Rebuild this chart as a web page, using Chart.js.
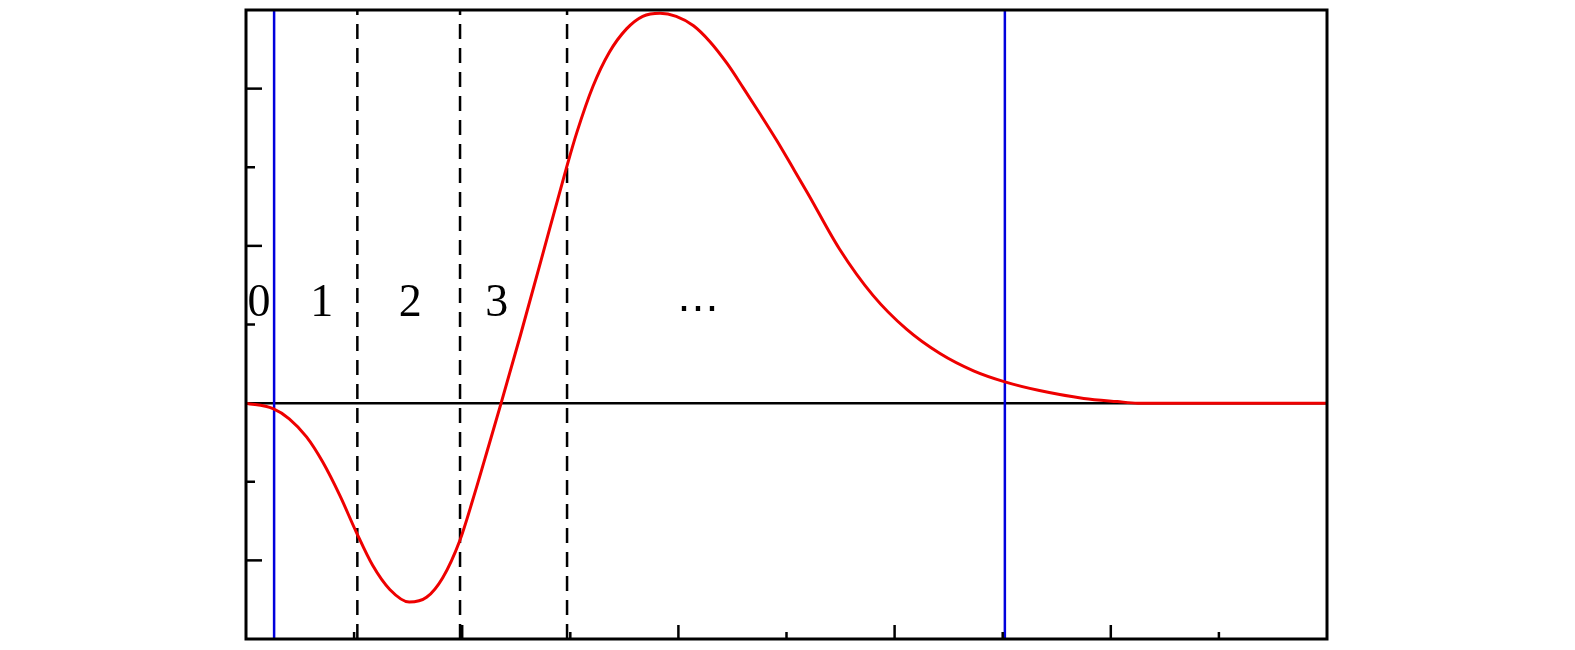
<!DOCTYPE html>
<html>
<head>
<meta charset="utf-8">
<script src="https://cdn.jsdelivr.net/npm/chart.js@4.4.1/dist/chart.umd.min.js"></script>
<style>
    html, body { margin: 0; padding: 0; background: #ffffff; }
    #chart-container { width: 1575px; height: 650px; position: relative; }
</style>
</head>
<body>
<div id="chart-container"><canvas id="wave-chart"></canvas></div>
<script>
// values
const CURVE_X = [0.00, 0.25, 0.40, 0.56, 0.71, 0.87, 1.02, 1.17, 1.33, 1.51, 1.67, 1.82, 1.98, 2.10, 2.25, 2.36,
    2.54, 2.73, 2.97, 3.06, 3.21, 3.36, 3.52, 3.67, 3.83, 3.98, 4.14, 4.29, 4.45, 4.60, 4.75, 4.91, 5.06,
    5.20, 5.49, 5.80, 6.11, 6.42, 6.73, 7.02, 7.34, 7.75, 8.06, 8.25, 10.00];
const CURVE_Y = [0.00, -0.07, -0.20, -0.43, -0.75, -1.18, -1.64, -2.06, -2.37, -2.53, -2.47, -2.22, -1.74, -1.22, -0.52, 0.00,
    0.87, 1.82, 3.02, 3.44, 4.03, 4.46, 4.76, 4.92, 4.96, 4.92, 4.80, 4.60, 4.32, 4.01, 3.69, 3.34, 2.99,
    2.66, 1.96, 1.37, 0.94, 0.63, 0.41, 0.27, 0.16, 0.06, 0.02, 0.00, 0.00];
const BLUE_LINES = [0.26, 7.02];
const DASHED_LINES = [1.03, 1.98, 2.97];
const REGION_LABELS = ["0", "1", "2", "3", "\u22EF"];
const REGION_LABEL_X = [0.12, 0.70, 1.52, 2.32, 4.18];
const REGION_LABEL_Y = [1.11, 1.11, 1.11, 1.11, 1.05];
const X_TICKS = [1, 2, 3, 4, 5, 6, 7, 8, 9];
const Y_TICKS = [-2, -1, 1, 2, 3, 4];
const X_RANGE = [0, 10];
const Y_RANGE = [-3, 5];

const RED = "#ee0000";
const BLUE = "#0000dd";
const BLACK = "#000000";

function verticalLine(x) {
    return [{x: x, y: Y_RANGE[0]}, {x: x, y: Y_RANGE[1]}];
}

function makeDatasets() {
    const res = [];
    res.push({
        data: CURVE_X.map((x, i) => ({x: x, y: CURVE_Y[i]})),
        borderColor: RED,
        borderWidth: 3,
        cubicInterpolationMode: "monotone",
        order: 0
    });
    BLUE_LINES.forEach(x => {
        res.push({data: verticalLine(x), borderColor: BLUE, borderWidth: 2.5, order: 1});
    });
    DASHED_LINES.forEach(x => {
        res.push({data: verticalLine(x), borderColor: BLACK, borderWidth: 2.5, borderDash: [15, 9], order: 2});
    });
    res.push({
        data: [{x: X_RANGE[0], y: 0}, {x: X_RANGE[1], y: 0}],
        borderColor: BLACK,
        borderWidth: 2.5,
        order: 3
    });
    return res;
}

// frame, inward ticks and region labels
const framePlugin = {
    id: "frame",
    afterDraw(chart) {
        const {ctx, chartArea, scales} = chart;
        const xs = scales.x;
        const ys = scales.y;
        ctx.save();
        ctx.strokeStyle = BLACK;
        ctx.lineWidth = 3;
        ctx.strokeRect(chartArea.left, chartArea.top, chartArea.right - chartArea.left, chartArea.bottom - chartArea.top);

        ctx.lineWidth = 2.5;
        X_TICKS.forEach(v => {
            const px = xs.getPixelForValue(v);
            const len = v % 2 === 0 ? 14 : 7;
            ctx.beginPath();
            ctx.moveTo(px, chartArea.bottom);
            ctx.lineTo(px, chartArea.bottom - len);
            ctx.stroke();
        });
        Y_TICKS.forEach(v => {
            const py = ys.getPixelForValue(v);
            const len = v % 2 === 0 ? 16 : 9;
            ctx.beginPath();
            ctx.moveTo(chartArea.left, py);
            ctx.lineTo(chartArea.left + len, py);
            ctx.stroke();
        });

        ctx.fillStyle = BLACK;
        ctx.textAlign = "center";
        ctx.textBaseline = "alphabetic";
        REGION_LABELS.forEach((label, i) => {
            ctx.font = label === "\u22EF" ? "42px 'DejaVu Serif'" : "46px 'Liberation Serif'";
            ctx.fillText(label, xs.getPixelForValue(REGION_LABEL_X[i]), ys.getPixelForValue(REGION_LABEL_Y[i]));
        });
        ctx.restore();
    }
};

const ctx = document.querySelector("#wave-chart").getContext("2d");
const configuration = {
    type: "line",
    data: {
        datasets: makeDatasets()
    },
    options: {
        animation: false,
        responsive: true,
        maintainAspectRatio: false,
        layout: {
            padding: {left: 246, right: 248, top: 10, bottom: 11}
        },
        elements: {
            point: {radius: 0},
            line: {fill: false}
        },
        scales: {
            x: {type: "linear", min: X_RANGE[0], max: X_RANGE[1], display: false},
            y: {type: "linear", min: Y_RANGE[0], max: Y_RANGE[1], display: false}
        },
        plugins: {
            legend: {display: false},
            tooltip: {enabled: false}
        }
    },
    plugins: [framePlugin]
};
new Chart(ctx, configuration);
</script>
</body>
</html>
